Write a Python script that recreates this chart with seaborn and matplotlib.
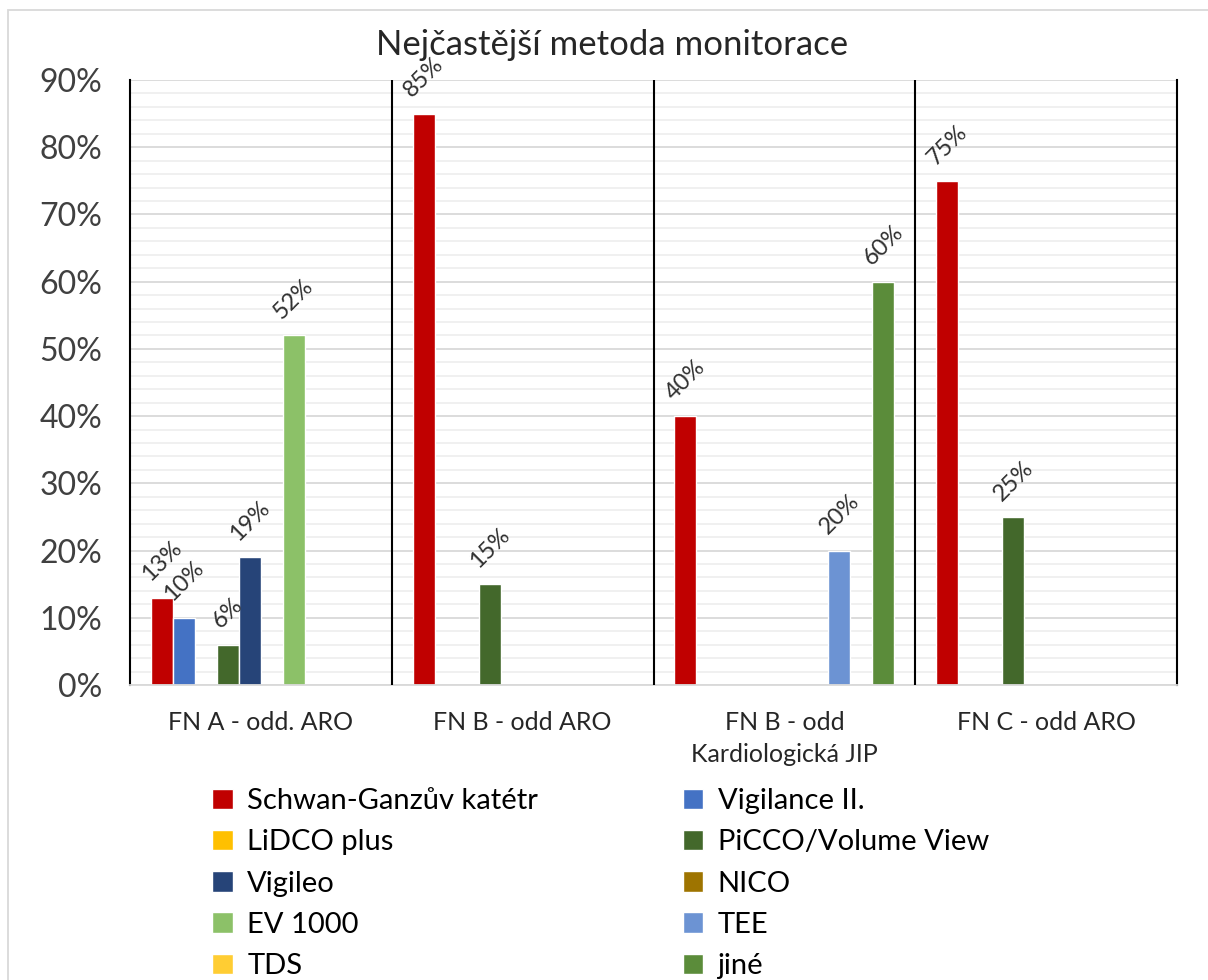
import pandas as pd
import numpy as np
import matplotlib.pyplot as plt
import seaborn as sns
from matplotlib.patches import Patch, Rectangle
from matplotlib.ticker import MultipleLocator, PercentFormatter

groups = ['FN A - odd. ARO', 'FN B - odd ARO', 'FN B - odd\nKardiologická JIP', 'FN C - odd ARO']
methods = ['Schwan-Ganzův katétr', 'Vigilance II.', 'LiDCO plus', 'PiCCO/Volume View', 'Vigileo',
           'NICO', 'EV 1000', 'TEE', 'TDS', 'jiné']
colors = ['#C00000', '#4472C4', '#FFC000', '#43682B', '#264478',
          '#9E7400', '#8CC168', '#6C93D3', '#FFCD33', '#5B8C3A']

# percent per group, one list per method
schwan = [13, 85, 40, 75]
vigilance = [10, 0, 0, 0]
lidco = [0, 0, 0, 0]
picco = [6, 15, 0, 25]
vigileo = [19, 0, 0, 0]
nico = [0, 0, 0, 0]
ev1000 = [52, 0, 0, 0]
tee = [0, 0, 20, 0]
tds = [0, 0, 0, 0]
jine = [0, 0, 60, 0]

series = [schwan, vigilance, lidco, picco, vigileo, nico, ev1000, tee, tds, jine]
rows = []
for m, vals in zip(methods, series):
    for g, v in zip(groups, vals):
        rows.append({'group': g, 'method': m, 'value': v})
df = pd.DataFrame(rows)

sns.set_style('white')
plt.rcParams['font.family'] = ['Lato', 'DejaVu Sans']

fig = plt.figure(figsize=(12.08, 9.8), dpi=100)
ax = fig.add_axes([130 / 1208, 1 - 685 / 980, (1177 - 130) / 1208, (685 - 80) / 980])

sns.barplot(data=df, x='group', y='value', hue='method', hue_order=methods, order=groups,
            palette=colors, width=0.84, gap=0, ax=ax, legend=False, saturation=1)

ax.set_ylim(0, 90)
ax.set_xlim(-0.5, 3.5)
ax.yaxis.set_major_locator(MultipleLocator(10))
ax.yaxis.set_minor_locator(MultipleLocator(2))
ax.yaxis.set_major_formatter(PercentFormatter(decimals=0))
ax.grid(which='major', axis='y', color='#D9D9D9', lw=1.3)
ax.grid(which='minor', axis='y', color='#EFEFEF', lw=1.3)
ax.set_axisbelow(True)
ax.tick_params(axis='y', labelsize=23, colors='#404040', length=0, pad=20)
ax.tick_params(axis='x', labelsize=18, colors='#262626', length=0, pad=19)
for lbl in ax.get_xticklabels():
    lbl.set_linespacing(1.45)
ax.set_xlabel('')
ax.set_ylabel('')

ax.spines['top'].set_visible(False)
ax.spines['bottom'].set_color('#D9D9D9')
ax.spines['bottom'].set_linewidth(1.3)
for s in ['left', 'right']:
    ax.spines[s].set_color('black')
    ax.spines[s].set_linewidth(1.5)
for xb in [0.5, 1.5, 2.5]:
    ax.axvline(xb, color='black', lw=1.5, zorder=3)

for p in ax.patches:
    h = p.get_height()
    if h > 0:
        ax.annotate(f'{h:.0f}%', (p.get_x() + p.get_width() / 2, h), xytext=(0, 9),
                    textcoords='offset points', ha='center', va='bottom', rotation=45,
                    fontsize=17, color='#303030')

fig.text(612 / 1208, 1 - 45 / 980, 'Nejčastější metoda monitorace', ha='center', va='center',
         fontsize=25, color='#262626')

handles = [Patch(facecolor=c, label=m) for m, c in zip(methods, colors)]
order = [0, 2, 4, 6, 8, 1, 3, 5, 7, 9]
fig.legend([handles[i] for i in order], [methods[i] for i in order], ncol=2,
           loc='upper left', bbox_to_anchor=(186 / 1208, 1 - 762 / 980), frameon=False,
           fontsize=21, handlelength=0.7, handleheight=0.7, handletextpad=0.5,
           columnspacing=4.95, labelspacing=0.52, labelcolor='black')

fig.patches.append(Rectangle((8 / 1208, -0.1), 1.2, 1 - 10 / 980 + 0.1, transform=fig.transFigure,
                             fill=False, edgecolor='#D9D9D9', lw=1.3))

fig.savefig('out.png', dpi=100, facecolor='white')
